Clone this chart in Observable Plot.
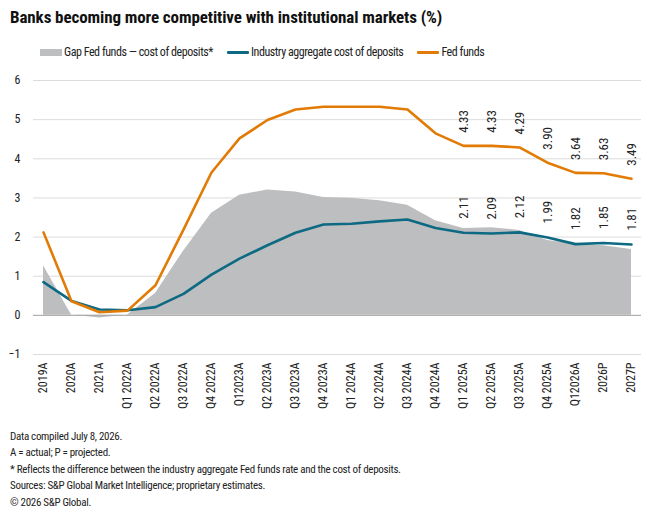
<!DOCTYPE html>
<html><head><meta charset="utf-8">
<script src="https://cdn.jsdelivr.net/npm/d3@7"></script>
<script src="https://cdn.jsdelivr.net/npm/@observablehq/plot@0.6"></script>
<style>
body{margin:0;width:660px;height:515px;background:#fff;font-family:"Liberation Sans Narrow","Roboto Condensed","Liberation Sans",sans-serif;color:#1a1a1a;position:relative;overflow:hidden}
#title{position:absolute;left:10px;top:7px;font-size:17px;font-weight:bold;letter-spacing:-0.1px;white-space:nowrap;color:#111}
#legend{position:absolute;left:40px;top:45px;display:flex;align-items:center;font-size:12px;letter-spacing:-0.45px;white-space:nowrap;color:#222}
.item{display:flex;align-items:center;margin-right:14px}
.sw{display:inline-block;width:22px;margin-right:2px}
#chart{position:absolute;left:0;top:68px}
#foot{position:absolute;left:10px;top:429px;font-size:11px;letter-spacing:-0.3px;line-height:16.4px;color:#222;white-space:nowrap}
</style></head><body>
<div id="title">Banks becoming more competitive with institutional markets (%)</div>
<div id="legend"></div>
<div id="chart"></div>
<div id="foot"></div>
<script>
const categories = ["2019A","2020A","2021A","Q1 2022A","Q2 2022A","Q3 2022A","Q4 2022A","Q12023A","Q2 2023A","Q3 2023A","Q4 2023A","Q1 2024A","Q2 2024A","Q3 2024A","Q4 2024A","Q1 2025A","Q2 2025A","Q3 2025A","Q4 2025A","Q12026A","2026P","2027P"];
const fedFunds = [2.12,0.36,0.08,0.12,0.77,2.19,3.65,4.52,4.99,5.26,5.33,5.33,5.33,5.26,4.65,4.33,4.33,4.29,3.90,3.64,3.63,3.49];
const costOfDeposits = [0.85,0.37,0.15,0.13,0.21,0.55,1.04,1.45,1.79,2.11,2.32,2.34,2.40,2.45,2.23,2.11,2.09,2.12,1.99,1.82,1.85,1.81];
const gap = [1.27,0.01,-0.07,0.01,0.56,1.64,2.61,3.07,3.20,3.15,3.01,2.99,2.93,2.81,2.42,2.22,2.24,2.17,1.91,1.82,1.78,1.68];
const labeledFrom = "Q1 2025A";
const yTicks = [-1,0,1,2,3,4,5,6];
const seriesNames = ["Gap Fed funds \u2014 cost of deposits*","Industry aggregate cost of deposits","Fed funds"];
const colors = {gap:"#bdbec0", cost:"#0d6a82", fed:"#e27b05"};
const notes = ["Data compiled July 8, 2026.","A = actual; P = projected.","* Reflects the difference between the industry aggregate Fed funds rate and the cost of deposits.","Sources: S&P Global Market Intelligence; proprietary estimates.","\u00a9 2026 S&P Global."];

const data = categories.map((c,i)=>({cat:c, fed:fedFunds[i], cost:costOfDeposits[i], gap:gap[i]}));
const start = categories.indexOf(labeledFrom);
const labeled = data.slice(start);
const fmt = d3.format(".2f");

const chart = Plot.plot({
  width:660, height:355,
  marginTop:12, marginBottom:69, marginLeft:33, marginRight:19,
  style:{fontFamily:'"Liberation Sans Narrow","Roboto Condensed","Liberation Sans",sans-serif', fontSize:"12px", color:"#222", background:"#fff"},
  x:{type:"point", domain:categories, padding:0, label:null},
  y:{domain:[-1,6], label:null},
  marks:[
    Plot.ruleY(yTicks,{stroke:"#dcdcdc", strokeWidth:1}),
    Plot.areaY(data,{x:"cat", y:"gap", fill:colors.gap}),
    Plot.ruleY([0],{stroke:"#a8a8a8", strokeWidth:1}),
    Plot.lineY(data,{x:"cat", y:"cost", stroke:colors.cost, strokeWidth:2.6}),
    Plot.lineY(data,{x:"cat", y:"fed", stroke:colors.fed, strokeWidth:2.6}),
    Plot.text(labeled,{x:"cat", y:"fed", text:d=>fmt(d.fed), rotate:-90, textAnchor:"start", dy:-13, fontSize:13, fill:"#222"}),
    Plot.text(labeled,{x:"cat", y:"cost", text:d=>fmt(d.cost), rotate:-90, textAnchor:"start", dy:-14, fontSize:13, fill:"#222"}),
    Plot.axisY({ticks:yTicks, tickFormat:d3.format("d"), tickSize:0, tickPadding:13, fontSize:12, label:null}),
    Plot.axisX({tickRotate:-90, tickSize:0, tickPadding:8, fontSize:12, label:null})
  ]
});
document.getElementById("chart").appendChild(chart);

const leg = document.getElementById("legend");
const kinds = ["gap","cost","fed"];
seriesNames.forEach((n,i)=>{
  const it = document.createElement("span"); it.className="item";
  const sw = document.createElement("span"); sw.className="sw";
  if (kinds[i]==="gap"){ sw.style.height="7px"; sw.style.background=colors.gap; }
  else { sw.style.height="3px"; sw.style.background=colors[kinds[i]]; sw.style.borderRadius="1px"; }
  const t = document.createElement("span"); t.textContent=n;
  it.appendChild(sw); it.appendChild(t); leg.appendChild(it);
});
const foot = document.getElementById("foot");
notes.forEach(n=>{const d=document.createElement("div"); d.textContent=n; foot.appendChild(d);});
</script>
</body></html>
